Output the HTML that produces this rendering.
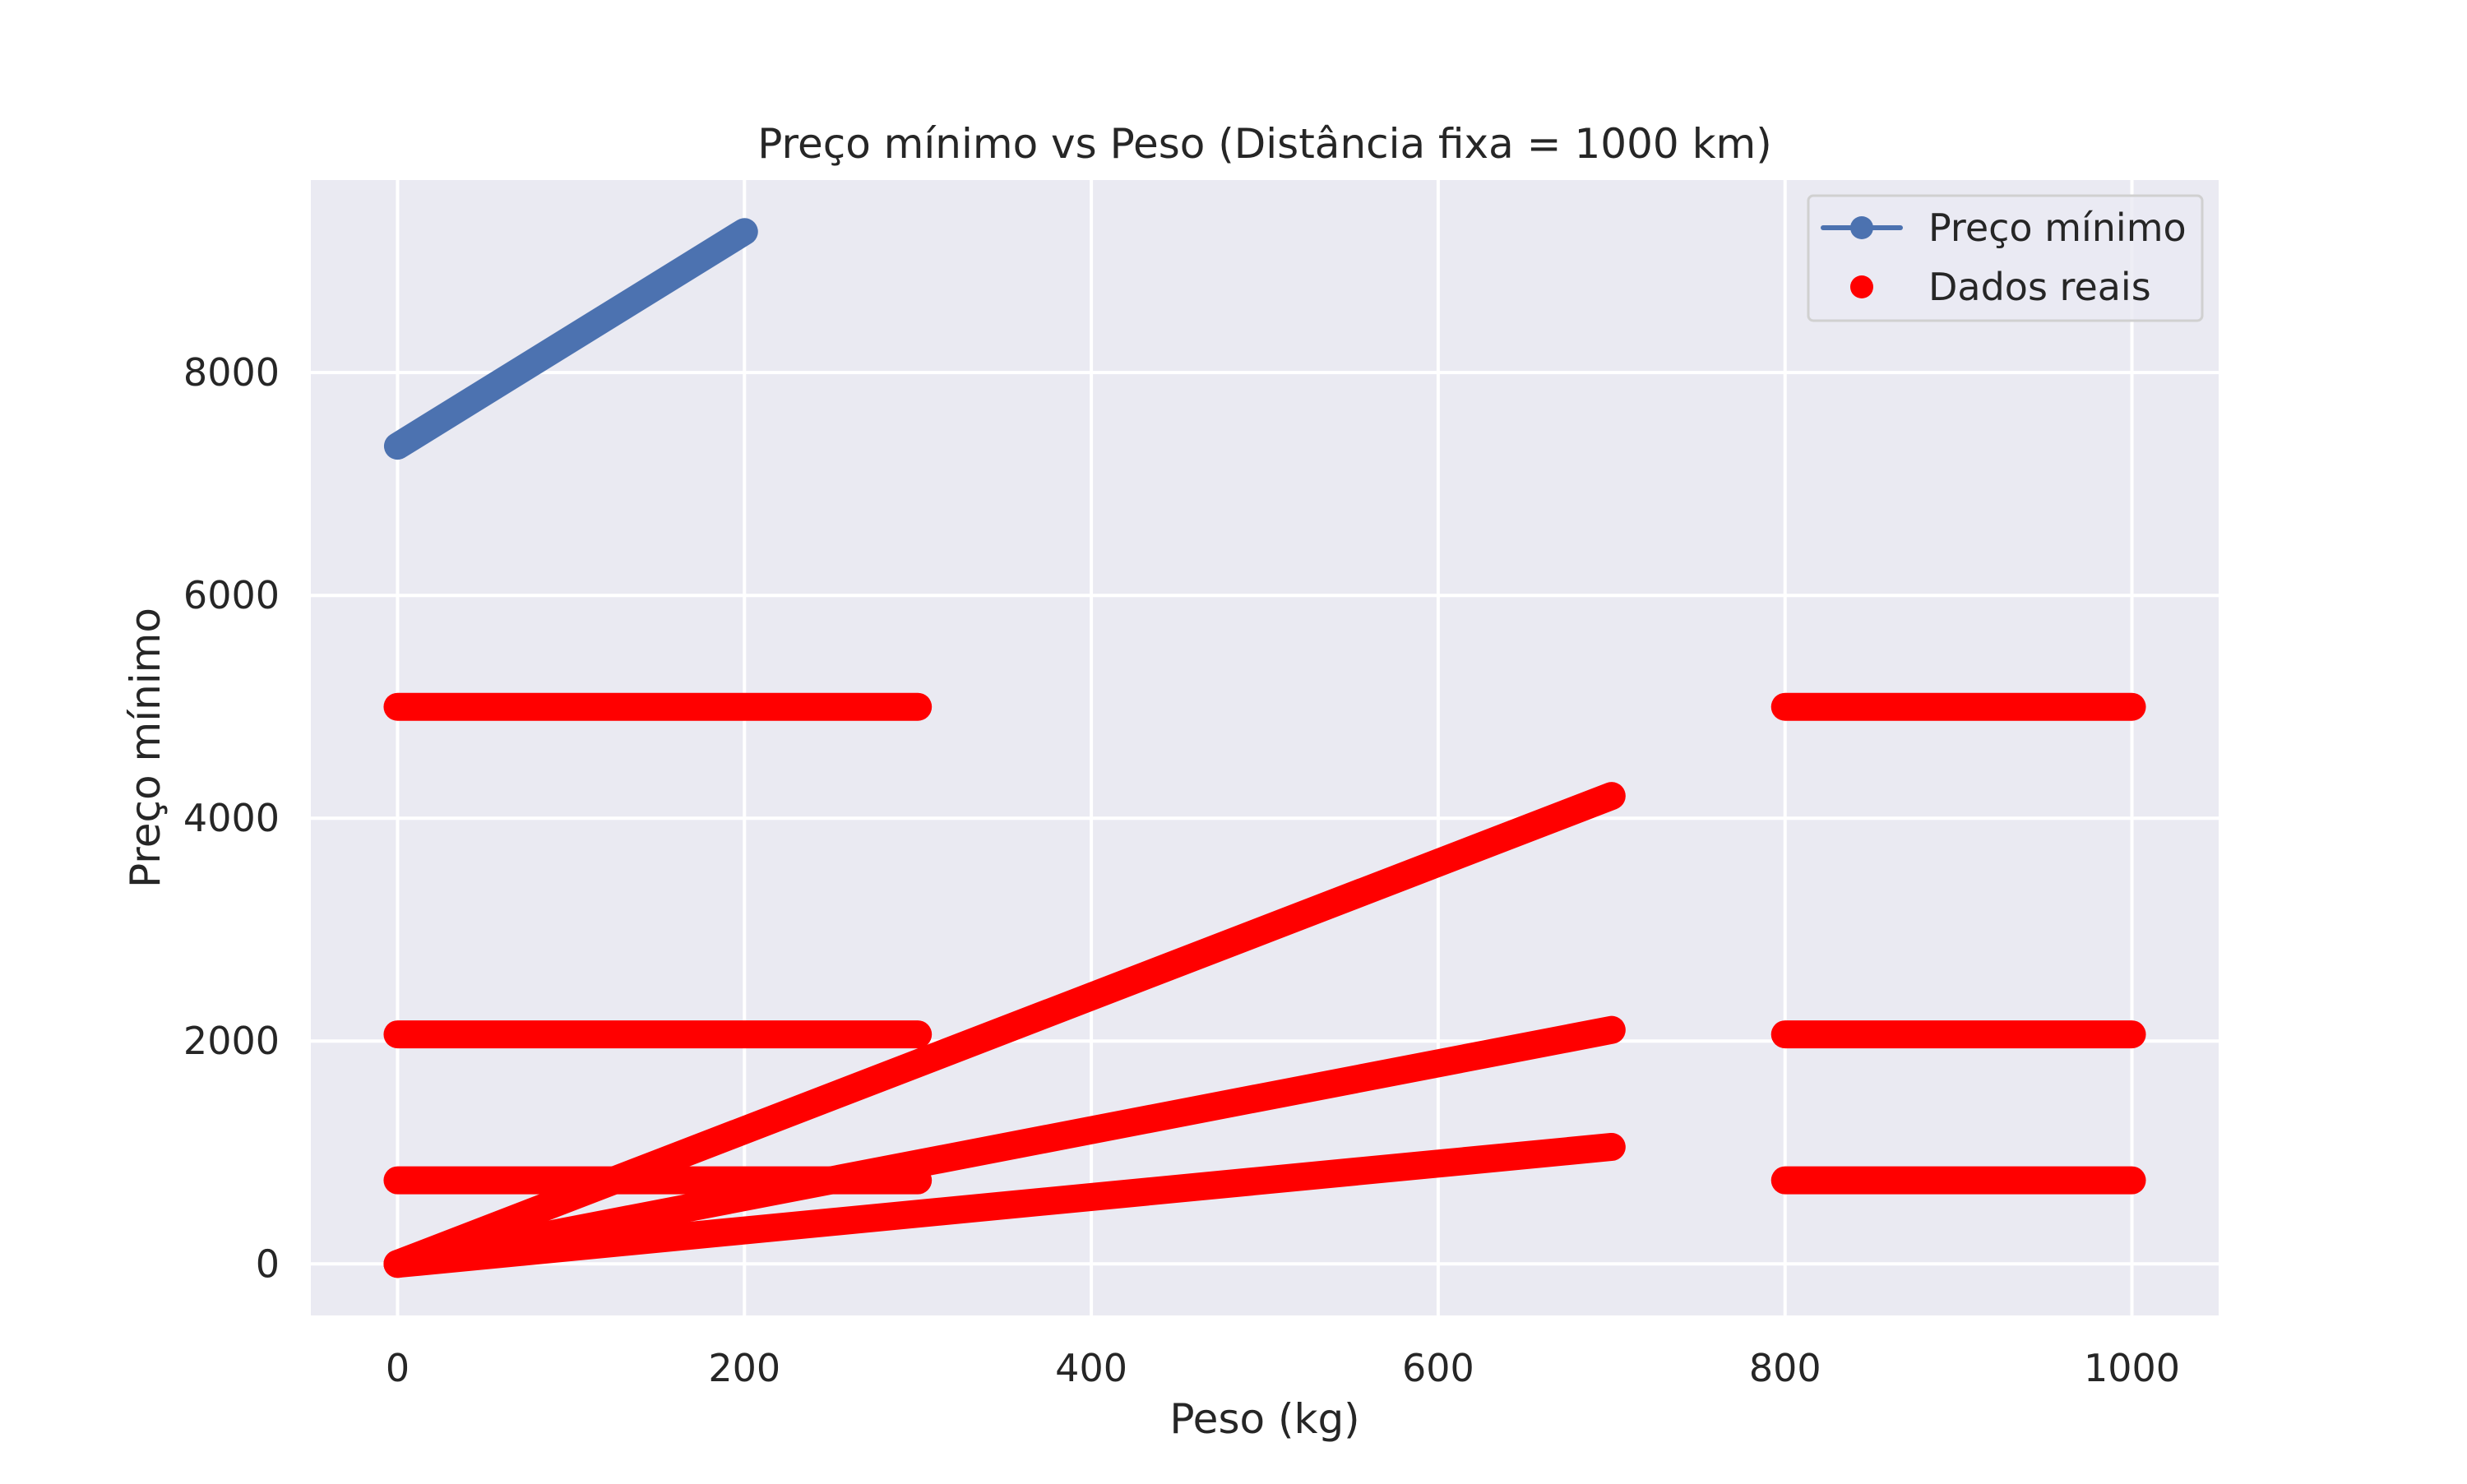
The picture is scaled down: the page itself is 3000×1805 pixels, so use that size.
<!DOCTYPE html>
<html><head><meta charset="utf-8"><style>
html,body{margin:0;padding:0;background:#fff;}
svg text{font-family:"DejaVu Sans","Liberation Sans",sans-serif;fill:#262626;}
</style></head><body>
<svg id="chart" width="3000" height="1800" xmlns="http://www.w3.org/2000/svg">
<rect x="0" y="0" width="3000" height="1800" fill="#ffffff"/>
<g id="plot"></g>
</svg>
<script>
const xTicks = [0, 200, 400, 600, 800, 1000];
const yTicks = [0, 2000, 4000, 6000, 8000];
const blueX = [0, 200];
const blueY = [7340, 9265];
const redSegX0 = [0, 0, 0, 800, 800, 800, 0, 0, 0];
const redSegX1 = [300, 300, 300, 1000, 1000, 1000, 700, 700, 700];
const redSegY0 = [5000, 2060, 750, 5000, 2060, 750, 0, 0, 0];
const redSegY1 = [5000, 2060, 750, 5000, 2060, 750, 4200, 2100, 1050];

const L = 378, R = 2698, T = 219, B = 1600;
const xMin = -50, xMax = 1050, yMin = -463, yMax = 9728;
const sx = v => L + (v - xMin) / (xMax - xMin) * (R - L);
const sy = v => B - (v - yMin) / (yMax - yMin) * (B - T);
const NS = 'http://www.w3.org/2000/svg';
const g = document.getElementById('plot');
function mk(tag, attrs, parent) {
  const e = document.createElementNS(NS, tag);
  for (const k in attrs) e.setAttribute(k, attrs[k]);
  (parent || g).appendChild(e);
  return e;
}
let e;
e = mk('rect', {x: L, y: T, width: R - L, height: B - T, fill: '#EAEAF2'});


xTicks.forEach(t => {
  e = mk('line', {x1: sx(t), x2: sx(t), y1: T, y2: B, stroke: '#fff', 'stroke-width': 4});
  
  
  e = mk('text', {x: sx(t), y: 1680, 'font-size': 46, 'text-anchor': 'middle'});
  e.textContent = t;
  
  
});
yTicks.forEach(t => {
  e = mk('line', {x1: L, x2: R, y1: sy(t), y2: sy(t), stroke: '#fff', 'stroke-width': 4});
  
  
  e = mk('text', {x: 340, y: sy(t) + 16, 'font-size': 46, 'text-anchor': 'end'});
  e.textContent = t;
  
  
});
// blue series
e = mk('line', {x1: sx(blueX[0]), y1: sy(blueY[0]), x2: sx(blueX[1]), y2: sy(blueY[1]), stroke: '#4C72B0', 'stroke-width': 33, 'stroke-linecap': 'round'});


// red series
for (let i = 0; i < redSegX0.length; i++) {
  e = mk('line', {x1: sx(redSegX0[i]), y1: sy(redSegY0[i]), x2: sx(redSegX1[i]), y2: sy(redSegY1[i]), stroke: '#FF0000', 'stroke-width': 34, 'stroke-linecap': 'round'});
  
  
}
// legend
e = mk('rect', {x: 2199, y: 238, width: 479, height: 152, rx: 6, fill: '#EAEAF2', 'fill-opacity': 0.8, stroke: '#d0d0d0', 'stroke-width': 3});


e = mk('line', {x1: 2217, x2: 2311, y1: 277, y2: 277, stroke: '#4C72B0', 'stroke-width': 6, 'stroke-linecap': 'round'});


e = mk('circle', {cx: 2264, cy: 277, r: 14, fill: '#4C72B0'});


e = mk('text', {x: 2345, y: 293, 'font-size': 46});
e.textContent = 'Preço mínimo';


e = mk('circle', {cx: 2264, cy: 349, r: 14, fill: '#FF0000'});


e = mk('text', {x: 2345, y: 365, 'font-size': 46});
e.textContent = 'Dados reais';


// titles
e = mk('text', {x: (L + R) / 2, y: 192, 'font-size': 50, 'text-anchor': 'middle'});
e.textContent = 'Preço mínimo vs Peso (Distância fixa = 1000 km)';


e = mk('text', {x: (L + R) / 2, y: 1765 - 22, 'font-size': 50, 'text-anchor': 'middle'});
e.textContent = 'Peso (kg)';


e = mk('text', {x: 0, y: 0, 'font-size': 50, 'text-anchor': 'middle', transform: 'translate(194,' + ((T + B) / 2) + ') rotate(-90)'});
e.textContent = 'Preço mínimo';


</script>
</body></html>
